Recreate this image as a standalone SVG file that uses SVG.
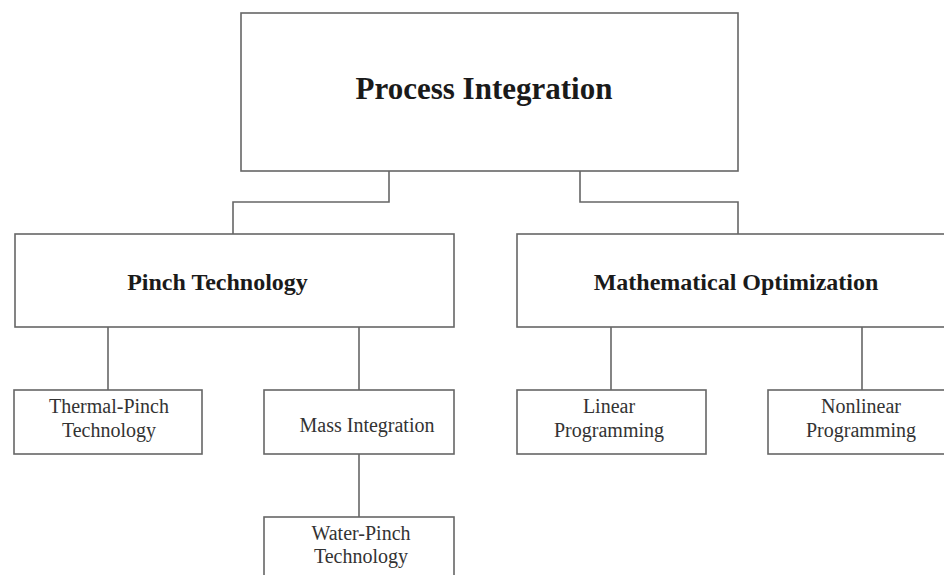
<svg xmlns="http://www.w3.org/2000/svg" width="944" height="575" viewBox="0 0 944 575">
<style>
.box{fill:#fff;stroke:#666;stroke-width:1.6}
.con{fill:none;stroke:#666;stroke-width:1.6}
.t{font-family:"Liberation Serif","Times New Roman",serif;fill:#1a1a1a;text-anchor:middle}
.b{font-weight:bold}
.s{font-size:20px;fill:#333}
</style>
<rect width="944" height="575" fill="#fff"/>
<g id="connectors">
<path class="con" d="M389 171V202H233V234"/>
<path class="con" d="M580 171V202H738V234"/>
<path class="con" d="M108 327V390"/>
<path class="con" d="M359 327V390"/>
<path class="con" d="M359 454V517"/>
<path class="con" d="M611 327V390"/>
<path class="con" d="M862 327V390"/>
</g>
<g id="process-integration">
<rect class="box" x="241" y="13" width="497" height="158"/>
<text class="t b" x="484" y="99" font-size="31">Process Integration</text>
</g>
<g id="pinch-technology">
<rect class="box" x="15" y="234" width="439" height="93"/>
<text class="t b" x="217.5" y="290" font-size="24">Pinch Technology</text>
</g>
<g id="mathematical-optimization">
<rect class="box" x="517" y="234" width="430" height="93"/>
<text class="t b" x="736" y="290" font-size="24">Mathematical Optimization</text>
</g>
<g id="thermal-pinch">
<rect class="box" x="14" y="390" width="188" height="64"/>
<text class="t s" x="109" y="413">Thermal-Pinch</text>
<text class="t s" x="109" y="437">Technology</text>
</g>
<g id="mass-integration">
<rect class="box" x="264" y="390" width="190" height="64"/>
<text class="t s" x="367" y="432">Mass Integration</text>
</g>
<g id="water-pinch">
<rect class="box" x="264" y="517" width="190" height="70"/>
<text class="t s" x="361" y="540">Water-Pinch</text>
<text class="t s" x="361" y="563">Technology</text>
</g>
<g id="linear-programming">
<rect class="box" x="517" y="390" width="189" height="64"/>
<text class="t s" x="609" y="413">Linear</text>
<text class="t s" x="609" y="437">Programming</text>
</g>
<g id="nonlinear-programming">
<rect class="box" x="768" y="390" width="179" height="64"/>
<text class="t s" x="861" y="413">Nonlinear</text>
<text class="t s" x="861" y="437">Programming</text>
</g>
</svg>
